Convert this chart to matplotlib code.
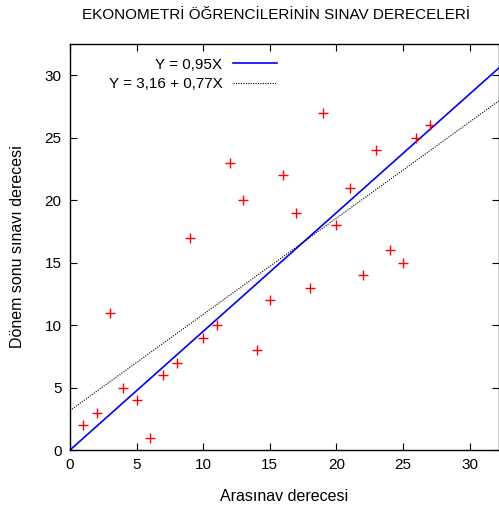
import matplotlib
matplotlib.use("Agg")
import matplotlib.pyplot as plt
import numpy as np

plt.rcParams['font.family'] = ['Liberation Sans', 'DejaVu Sans']

ara = [1, 2, 3, 4, 5, 6, 7, 8, 9, 10, 11, 12, 13, 14, 15, 16, 17, 18, 19, 20,
       21, 22, 23, 24, 25, 26, 27]
donem = [2, 3, 11, 5, 4, 1, 6, 7, 17, 9, 10, 23, 20, 8, 12, 22, 19, 13, 27, 18,
         21, 14, 24, 16, 15, 25, 26]
fit_labels = ["Y = 0,95X", "Y = 3,16 + 0,77X"]
intercepts = [0.0, 3.16]
slopes = [0.95, 0.77]

XMAX, YMAX = 32.2, 32.5

fig = plt.figure(figsize=(4.99, 5.08), dpi=100)
ax = fig.add_axes([70 / 499, 58 / 508, 429 / 499, 406 / 508])

ax.plot(ara, donem, "+", color="red", ms=7.5, mew=1.0, clip_on=False, zorder=3)

xs = np.array([0, XMAX])
ax.plot(xs, intercepts[0] + slopes[0] * xs, color="blue", lw=1.2, label=fit_labels[0])
ax.plot(xs, intercepts[1] + slopes[1] * xs, color="black", lw=0.8, ls=(0, (1, 1.2)),
        label=fit_labels[1])

ax.set_xlim(0, XMAX)
ax.set_ylim(0, YMAX)
ax.set_xticks(range(0, 31, 5))
ax.set_yticks(range(0, 31, 5))
ax.tick_params(direction="in", top=True, right=True, length=5, labelsize=11, pad=6)
for s in ax.spines.values():
    s.set_linewidth(1.0)

ax.set_xlabel("Arasınav derecesi", fontsize=11.5, labelpad=12)
ax.set_ylabel("Dönem sonu sınavı derecesi", fontsize=11.5, labelpad=14)
fig.text(0.5 + 27 / 499, 1 - 15 / 508, "EKONOMETRİ ÖĞRENCİLERİNİN SINAV DERECELERİ",
         ha="center", va="center", fontsize=11)

ax.legend(loc="upper left", bbox_to_anchor=(0.058, 1.0), frameon=False,
          markerfirst=False, fontsize=11, handlelength=2.85, handletextpad=0.7,
          labelspacing=0.35, alignment="right")

fig.savefig("out.png", dpi=100)
